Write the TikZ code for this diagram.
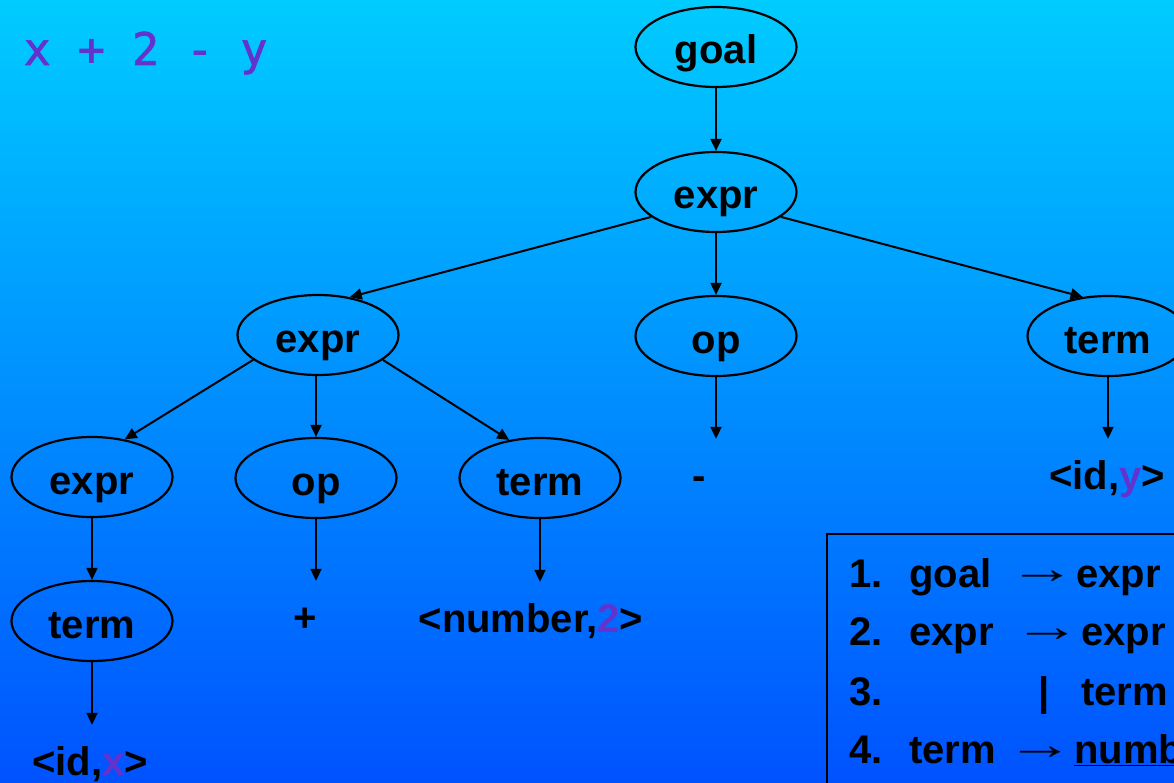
\documentclass[tikz,border=0pt]{standalone}
\usepackage{fontspec}
\setmainfont{Liberation Sans}
\newfontfamily\titlemono[FakeBold=1.5]{DejaVu Sans Mono}
\usetikzlibrary{arrows.meta,shapes.geometric}
\definecolor{tokpurple}{RGB}{100,50,205}
\definecolor{bgtop}{RGB}{0,204,255}
\definecolor{bgbottom}{RGB}{0,82,255}
\newcommand\treefont{\fontsize{40}{48}\selectfont\bfseries}
\newcommand\prodarrow{\raisebox{3.5pt}{\scalebox{1.7}[1.1]{\mdseries\char"2192}}}
\tikzset{
  tnode/.style={ellipse, draw=black, line width=2.2pt, minimum width=161pt,
    minimum height=80pt, inner sep=0pt, text height=34pt, text depth=0pt,
    font=\treefont},
  leaf/.style={inner xsep=0pt, inner ysep=21pt, text height=29pt,
    text depth=8pt, font=\treefont, anchor=base},
  conn/.style={-{Triangle[length=12pt,width=11pt]}, line width=2pt},
  gtext/.style={anchor=base west, inner sep=0pt, font=\treefont},
}
\begin{document}
\begin{tikzpicture}[x=1pt,y=-1pt]
\useasboundingbox (0,0) rectangle (1174,783);
\clip (0,0) rectangle (1174,783);
\shade[top color=bgtop, bottom color=bgbottom] (0,0) rectangle (1174,783);

% title
\node[anchor=base west, inner sep=0pt, text=tokpurple,
  font=\titlemono\fontsize{45}{50}\selectfont] (title) at (23.5,65) {x + 2 - y};

% tree nodes
\node[tnode] (goal)  at (716,47)  {goal};
\node[tnode] (expr)  at (716,192) {expr};
\node[tnode] (expr2) at (318,335) {expr};
\node[tnode] (op2)   at (716,336) {op};
\node[tnode] (term2) at (1108,336) {term};
\node[tnode] (expr3) at (92,477)  {expr};
\node[tnode] (op3)   at (316,478) {op};
\node[tnode] (term3) at (540,478) {term};
\node[tnode] (term4) at (92,621)  {term};

% leaves
\node[leaf] (idx)   at (90,775)  {<id,{\color{tokpurple}x}>};
\node[leaf] (plus)  at (305,631) {+};
\node[leaf] (num2)  at (531,632) {<number,{\color{tokpurple}2}>};
\node[leaf] (minus) at (699,489) {-};
\node[leaf] (idy)   at (1107,489) {<id,{\color{tokpurple}y}>};

% connectors
\draw[conn] (goal) -- (expr);
\draw[conn] (expr.201) -- (expr2.50);
\draw[conn] (expr) -- (op2);
\draw[conn] (expr.339) -- (term2.123);
\draw[conn] (expr2.201) -- (expr3.49);
\draw[conn] (op3.north |- expr2.south) -- (op3.north);
\draw[conn] (expr2.339) -- (term3.129);
\draw[conn] (expr3) -- (term4);
\draw[conn] (term4.south) -- (term4.south |- idx.north);
\draw[conn] (op3.south) -- (op3.south |- plus.north);
\draw[conn] (term3.south) -- (term3.south |- num2.north);
\draw[conn] (op2.south) -- (op2.south |- minus.north);
\draw[conn] (term2.south) -- (term2.south |- idy.north);

% grammar box
\draw[line width=2.2pt] (827,534) rectangle (1200,820);
\node[gtext] (g1n) at (849,587) {1.};
\node[gtext] (g1l) at (909,587) {goal};
\node[gtext] (g1a) at (1008,587) {\prodarrow};
\node[gtext] (g1r) at (1076,587) {expr};
\node[gtext] (g2n) at (849,645) {2.};
\node[gtext] (g2l) at (909,645) {expr};
\node[gtext] (g2a) at (1013,645) {\prodarrow};
\node[gtext] (g2r) at (1081,645) {expr};
\node[gtext] (g3n) at (849,705) {3.};
\node[anchor=base, inner sep=0pt, font=\treefont] (g3b) at (1044,705) {|};
\node[gtext] (g3r) at (1081,705) {term};
\node[gtext] (g4n) at (849,763) {4.};
\node[gtext] (g4l) at (909,763) {term};
\node[gtext] (g4a) at (1006,763) {\prodarrow};
\node[gtext] (g4r) at (1074,763) {\underline{number}};
\end{tikzpicture}
\end{document}
